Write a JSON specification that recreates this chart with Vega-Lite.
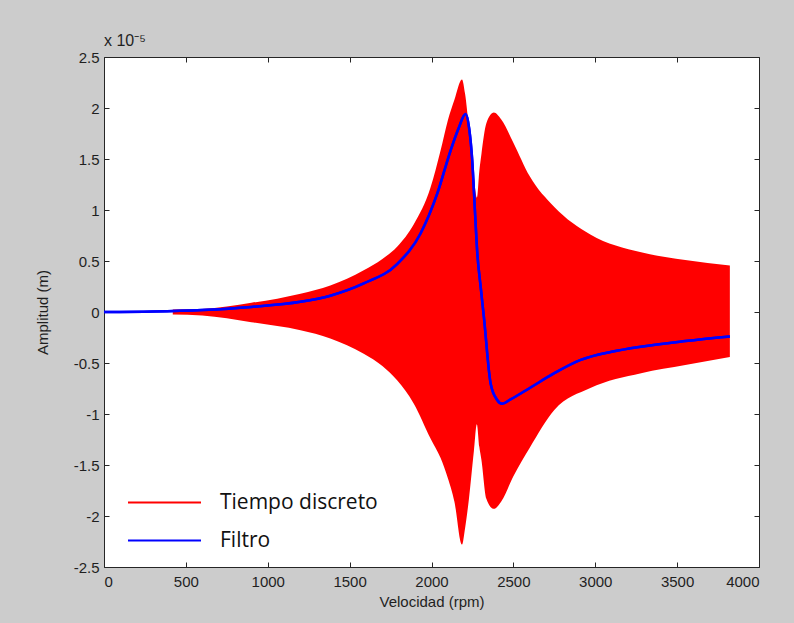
{
  "$schema": "https://vega.github.io/schema/vega-lite/v6.json",
  "width": 655,
  "height": 510,
  "autosize": "none",
  "padding": {"left": 104, "top": 57, "right": 35, "bottom": 56},
  "background": "#cccccc",
  "config": {
    "view": {"fill": "white", "stroke": "#262626", "strokeWidth": 1},
    "axis": {
      "domain": false,
      "tickColor": "#262626",
      "tickSize": 5,
      "tickWidth": 1,
      "grid": false,
      "labelFont": "Liberation Sans",
      "labelFontSize": 15,
      "labelColor": "#1f1f1f",
      "titleFont": "Liberation Sans",
      "titleFontSize": 15,
      "titleFontWeight": "normal",
      "titleColor": "#1f1f1f"
    },
    "legend": {
      "orient": "none",
      "title": null,
      "padding": 0,
      "symbolType": "stroke",
      "symbolSize": 5329,
      "symbolStrokeWidth": 2,
      "labelOffset": 18,
      "labelFont": "Open Sans",
      "labelFontSize": 21,
      "labelColor": "#111111",
      "labelLimit": 400
    }
  },
  "title": {
    "text": "x 10⁻⁵",
    "anchor": "start",
    "frame": "group",
    "font": "Liberation Sans",
    "fontSize": 16,
    "fontWeight": "normal",
    "color": "#1f1f1f",
    "offset": 1
  },
  "datasets": {
    "env": [
      {"rpm": 420, "hi": 0.025, "lo": -0.025},
      {"rpm": 600, "hi": 0.03, "lo": -0.035},
      {"rpm": 900, "hi": 0.09, "lo": -0.1},
      {"rpm": 1200, "hi": 0.18, "lo": -0.18},
      {"rpm": 1382, "hi": 0.26, "lo": -0.26},
      {"rpm": 1586, "hi": 0.41, "lo": -0.41},
      {"rpm": 1700, "hi": 0.52, "lo": -0.53},
      {"rpm": 1790, "hi": 0.64, "lo": -0.67},
      {"rpm": 1892, "hi": 0.86, "lo": -0.9},
      {"rpm": 1994, "hi": 1.22, "lo": -1.24},
      {"rpm": 2055, "hi": 1.58, "lo": -1.43},
      {"rpm": 2100, "hi": 1.88, "lo": -1.63},
      {"rpm": 2140, "hi": 2.08, "lo": -1.86},
      {"rpm": 2186, "hi": 2.28, "lo": -2.28},
      {"rpm": 2205, "hi": 2.14, "lo": -2.12},
      {"rpm": 2228, "hi": 1.81, "lo": -1.84},
      {"rpm": 2259, "hi": 1.32, "lo": -1.36},
      {"rpm": 2277, "hi": 1.12, "lo": -1.1},
      {"rpm": 2292, "hi": 1.38, "lo": -1.32},
      {"rpm": 2305, "hi": 1.55, "lo": -1.45},
      {"rpm": 2335, "hi": 1.85, "lo": -1.83},
      {"rpm": 2381, "hi": 1.955, "lo": -1.93},
      {"rpm": 2425, "hi": 1.89, "lo": -1.86},
      {"rpm": 2500, "hi": 1.66, "lo": -1.61},
      {"rpm": 2600, "hi": 1.33, "lo": -1.33},
      {"rpm": 2750, "hi": 1.03, "lo": -0.96},
      {"rpm": 2970, "hi": 0.76, "lo": -0.745},
      {"rpm": 3280, "hi": 0.585, "lo": -0.6},
      {"rpm": 3550, "hi": 0.51, "lo": -0.52},
      {"rpm": 3822, "hi": 0.455, "lo": -0.44}
    ],
    "filt": [
      {"rpm": 0, "f": 0},
      {"rpm": 300, "f": 0.005},
      {"rpm": 600, "f": 0.02},
      {"rpm": 900, "f": 0.05},
      {"rpm": 1200, "f": 0.1},
      {"rpm": 1382, "f": 0.16},
      {"rpm": 1586, "f": 0.28},
      {"rpm": 1790, "f": 0.47},
      {"rpm": 1933, "f": 0.77},
      {"rpm": 2035, "f": 1.16},
      {"rpm": 2116, "f": 1.58},
      {"rpm": 2165, "f": 1.8},
      {"rpm": 2208, "f": 1.94},
      {"rpm": 2230, "f": 1.8},
      {"rpm": 2249, "f": 1.48},
      {"rpm": 2265, "f": 1.0},
      {"rpm": 2280, "f": 0.57},
      {"rpm": 2300, "f": 0.25},
      {"rpm": 2320, "f": -0.05},
      {"rpm": 2361, "f": -0.7},
      {"rpm": 2400, "f": -0.86},
      {"rpm": 2432, "f": -0.9},
      {"rpm": 2480, "f": -0.86},
      {"rpm": 2605, "f": -0.74},
      {"rpm": 2750, "f": -0.6},
      {"rpm": 2911, "f": -0.47},
      {"rpm": 3100, "f": -0.39},
      {"rpm": 3278, "f": -0.34},
      {"rpm": 3550, "f": -0.285},
      {"rpm": 3822, "f": -0.24}
    ]
  },
  "resolve": {"axis": {"x": "independent", "y": "independent"}},
  "layer": [
    {
      "data": {"name": "env"},
      "mark": {"type": "area", "interpolate": "monotone"},
      "encoding": {
        "x": {
          "field": "rpm", "type": "quantitative",
          "scale": {"domain": [0, 4000], "nice": false},
          "axis": {
            "orient": "bottom",
            "title": "Velocidad (rpm)",
            "values": [0, 500, 1000, 1500, 2000, 2500, 3000, 3500, 4000],
            "format": "d",
            "ticks": false,
            "labelPadding": 7,
            "titlePadding": 5
          }
        },
        "y": {
          "field": "hi", "type": "quantitative",
          "scale": {"domain": [-2.5, 2.5], "nice": false},
          "axis": {
            "orient": "left",
            "title": "Amplitud (m)",
            "values": [-2.5, -2, -1.5, -1, -0.5, 0, 0.5, 1, 1.5, 2, 2.5],
            "labelExpr": "replace(format(datum.value, '~g'), '−', '-')",
            "ticks": false,
            "labelPadding": 5,
            "titlePadding": 23
          }
        },
        "y2": {"field": "lo"},
        "color": {
          "datum": "Tiempo discreto",
          "type": "nominal",
          "scale": {"domain": ["Tiempo discreto"], "range": ["#ff0000"]},
          "legend": {
            "legendX": 23, "legendY": 408,
            "encode": {"symbols": {"update": {"stroke": {"value": "#ff0000"}, "fill": {"value": "transparent"}, "strokeWidth": {"value": 2}}}}
          }
        }
      }
    },
    {
      "data": {"name": "filt"},
      "mark": {"type": "line", "strokeWidth": 2.5, "interpolate": "monotone"},
      "encoding": {
        "x": {
          "field": "rpm", "type": "quantitative",
          "axis": {
            "orient": "top", "offset": -510, "title": null, "labels": false, "ticks": true,
            "values": [0, 500, 1000, 1500, 2000, 2500, 3000, 3500, 4000]
          }
        },
        "y": {
          "field": "f", "type": "quantitative",
          "axis": {
            "orient": "right", "offset": -655, "title": null, "labels": false, "ticks": true,
            "values": [-2.5, -2, -1.5, -1, -0.5, 0, 0.5, 1, 1.5, 2, 2.5]
          }
        },
        "stroke": {
          "datum": "Filtro",
          "type": "nominal",
          "scale": {"domain": ["Filtro"], "range": ["#0000ff"]},
          "legend": {"legendX": 23, "legendY": 446}
        }
      }
    },
    {
      "data": {"name": "filt"},
      "mark": {"type": "line", "strokeWidth": 2.5, "interpolate": "monotone", "color": "#0000ff"},
      "encoding": {
        "x": {
          "field": "rpm", "type": "quantitative",
          "axis": {
            "orient": "bottom", "offset": -510, "title": null, "labels": false, "ticks": true,
            "values": [0, 500, 1000, 1500, 2000, 2500, 3000, 3500, 4000]
          }
        },
        "y": {
          "field": "f", "type": "quantitative",
          "axis": {
            "orient": "left", "offset": -655, "title": null, "labels": false, "ticks": true,
            "values": [-2.5, -2, -1.5, -1, -0.5, 0, 0.5, 1, 1.5, 2, 2.5]
          }
        }
      }
    }
  ]
}
